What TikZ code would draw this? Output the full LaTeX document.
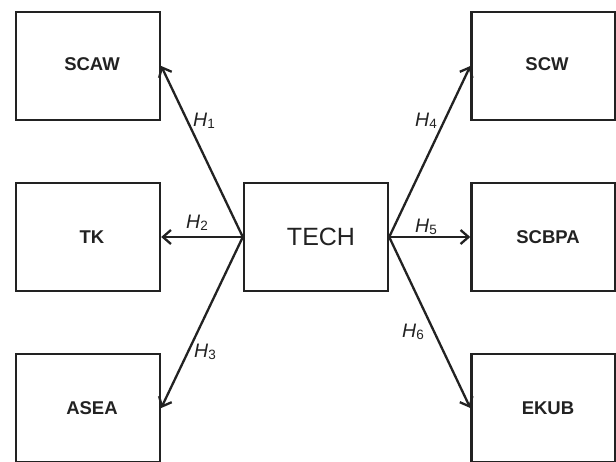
\documentclass[tikz,border=0pt]{standalone}
\usepackage{fontspec}
\setmainfont{Liberation Sans}
\usetikzlibrary{arrows.meta}
\definecolor{ink}{HTML}{222222}
\tikzset{
  box/.style={draw=ink, line width=2.4pt, minimum width=144pt, minimum height=108pt, inner sep=0pt},
  boxtext/.style={text=ink, font=\fontsize{18.5}{21}\selectfont\bfseries},
  arr/.style={draw=ink, line width=2.3pt, -{Straight Barb[length=8pt,width=14pt,line width=2.3pt]}},
  hlab/.style={text=ink, inner sep=0pt, font=\fontsize{19.5}{22}\selectfont}
}
\newcommand{\hl}[1]{{\itshape H}{\fontsize{13.5}{14}\selectfont\raisebox{-2.5pt}{#1}}}
\begin{document}
\begin{tikzpicture}[x=1pt,y=-1pt]
\useasboundingbox (0,0) rectangle (616,462);
\node[box] (scaw) at (88,66) {};
\node[box] (tk) at (88,237) {};
\node[box] (asea) at (88,408) {};
\node[box] (tech) at (316,237) {};
\node[box] (scw) at (543.5,66) {};
\node[box] (scbpa) at (543.5,237) {};
\node[box] (ekub) at (543.5,408) {};
\node[boxtext] (tscaw) at (92,64) {SCAW};
\node[boxtext] (ttk) at (92,237) {TK};
\node[boxtext] (tasea) at (92,408) {ASEA};
\node[text=ink, font=\fontsize{25}{28}\selectfont] (ttech) at (321,237) {TECH};
\node[boxtext] (tscw) at (547,64) {SCW};
\node[boxtext] (tscbpa) at (548,237) {SCBPA};
\node[boxtext] (tekub) at (548,408) {EKUB};
\draw[arr] (tech.west) -- (scaw.east);
\draw[arr] (tech.west) -- (tk.east);
\draw[arr] (tech.west) -- (asea.east);
\draw[arr] (tech.east) -- (scw.west);
\draw[arr] (tech.east) -- (scbpa.west);
\draw[arr] (tech.east) -- (ekub.west);
\node[hlab] (h1) at (204,121) {\hl{1}};
\node[hlab] (h2) at (197,223) {\hl{2}};
\node[hlab] (h3) at (205,352) {\hl{3}};
\node[hlab] (h4) at (426,121) {\hl{4}};
\node[hlab] (h5) at (426,227) {\hl{5}};
\node[hlab] (h6) at (413,332) {\hl{6}};
\end{tikzpicture}
\end{document}
